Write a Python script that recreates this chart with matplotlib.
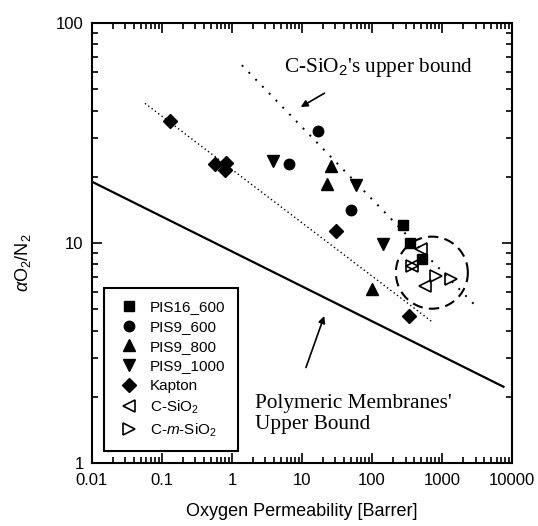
import numpy as np
import matplotlib
matplotlib.use("Agg")
import matplotlib.pyplot as plt

plt.rcParams['font.family'] = ['Liberation Sans', 'DejaVu Sans']
plt.rcParams['mathtext.fontset'] = 'custom'
plt.rcParams['mathtext.rm'] = 'Liberation Sans'
plt.rcParams['mathtext.it'] = 'Liberation Sans:italic'

# data (O2 permeability [Barrer], O2/N2 selectivity)
pis16_600_p = [280, 349, 524]
pis16_600_a = [12.1, 10.0, 8.5]
pis9_600_p = [16.6, 6.6, 50]
pis9_600_a = [32.4, 22.9, 14.2]
pis9_800_p = [25.7, 23, 99]
pis9_800_a = [22.4, 18.5, 6.2]
pis9_1000_p = [3.9, 58.5, 145]
pis9_1000_a = [23.7, 18.3, 9.9]
kapton_p = [0.13, 0.57, 0.82, 0.79, 30.6, 341]
kapton_a = [35.9, 22.9, 23.2, 21.5, 11.4, 4.66]
csio2_p = [495, 572, 377]
csio2_a = [9.36, 6.38, 7.88]
cmsio2_p = [813, 1345, 377]
cmsio2_a = [7.08, 6.86, 7.88]

# bound lines (end points)
robeson_p = [0.01, 7500]
robeson_a = [19.0, 2.22]
kapton_fit_p = [0.057, 713]
kapton_fit_a = [43.2, 4.39]
csio2_bound_p = [1.38, 3240]
csio2_bound_a = [64.4, 5.05]

fig = plt.figure(figsize=(5.38, 5.26), dpi=100)
ax = fig.add_axes([0.171, 0.120, 0.781, 0.836])

ax.plot(robeson_p, robeson_a, color='black', lw=1.6)
ax.plot(kapton_fit_p, kapton_fit_a, color='black', lw=1.0, ls=(0, (1, 2)))
ax.plot(csio2_bound_p, csio2_bound_a, color='black', lw=1.4, ls=(0, (1, 4)))

# dashed circle round the silica points (circle in screen space on log axes)
cx, cy = 713, 7.33
t = np.linspace(0, 2 * np.pi, 200)
ax.plot(10 ** (np.log10(cx) + 0.514 * np.cos(t)), 10 ** (np.log10(cy) + 0.164 * np.sin(t)),
        color='black', lw=1.5, ls=(0, (5, 3)))

ax.plot(pis16_600_p, pis16_600_a, 's', color='black', ms=7, label='PIS16_600')
ax.plot(pis9_600_p, pis9_600_a, 'o', color='black', ms=7.5, label='PIS9_600')
ax.plot(pis9_800_p, pis9_800_a, '^', color='black', ms=8.5, label='PIS9_800')
ax.plot(pis9_1000_p, pis9_1000_a, 'v', color='black', ms=8.5, label='PIS9_1000')
ax.plot(kapton_p, kapton_a, 'D', color='black', ms=7, label='Kapton')
ax.plot(csio2_p, csio2_a, '<', mfc='none', mec='black', mew=1.2, ms=8, ls='none', label='C-SiO$_2$')
ax.plot(cmsio2_p, cmsio2_a, '>', mfc='none', mec='black', mew=1.2, ms=8, ls='none', label='C-$m$-SiO$_2$')

ax.set_xscale('log')
ax.set_yscale('log')
ax.set_xlim(0.01, 10000)
ax.set_ylim(1, 100)
ax.set_xticks([0.01, 0.1, 1, 10, 100, 1000, 10000])
ax.set_xticklabels(['0.01', '0.1', '1', '10', '100', '1000', '10000'])
ax.set_yticks([1, 10, 100])
ax.set_yticklabels(['1', '10', '100'])
ax.tick_params(which='both', direction='in', top=True, right=True, labelsize=12, width=1.2)
ax.tick_params(which='major', length=7)
ax.tick_params(which='minor', length=4)
ax.tick_params(axis='x', pad=7)
ax.tick_params(axis='y', pad=6)
for s in ax.spines.values():
    s.set_linewidth(1.5)

ax.set_xlabel('Oxygen Permeability [Barrer]', fontsize=13, va='center')
ax.xaxis.set_label_coords(0.5, -0.111)
ax.set_ylabel(r'$\alpha$O$_2$/N$_2$', fontsize=13)
ax.yaxis.set_label_coords(-0.14, 0.455)

leg = ax.legend(loc='lower left', bbox_to_anchor=(0.029, 0.026), borderaxespad=0,
                fontsize=11, labelspacing=0.37, handletextpad=0.6, handlelength=1.6,
                fancybox=False, framealpha=1, edgecolor='black', borderpad=0.8)
leg.get_frame().set_linewidth(1.5)

ax.text(0.458, 0.898, "C-SiO$_2$'s upper bound", transform=ax.transAxes, fontsize=15.3,
        family='Liberation Serif', va='center', ha='left')
ax.annotate('', xy=(0.491, 0.806), xytext=(0.559, 0.844), xycoords='axes fraction',
            arrowprops=dict(arrowstyle='-|>', color='black', lw=1.2, mutation_scale=10))
ax.text(0.388, 0.111, "Polymeric Membranes'\nUpper Bound", transform=ax.transAxes, fontsize=15.3,
        family='Liberation Serif', va='center', ha='left', linespacing=1.2)
ax.annotate('', xy=(0.555, 0.34), xytext=(0.507, 0.211), xycoords='axes fraction',
            arrowprops=dict(arrowstyle='-|>', color='black', lw=1.2, mutation_scale=10))

fig.savefig('out.png', dpi=100)
